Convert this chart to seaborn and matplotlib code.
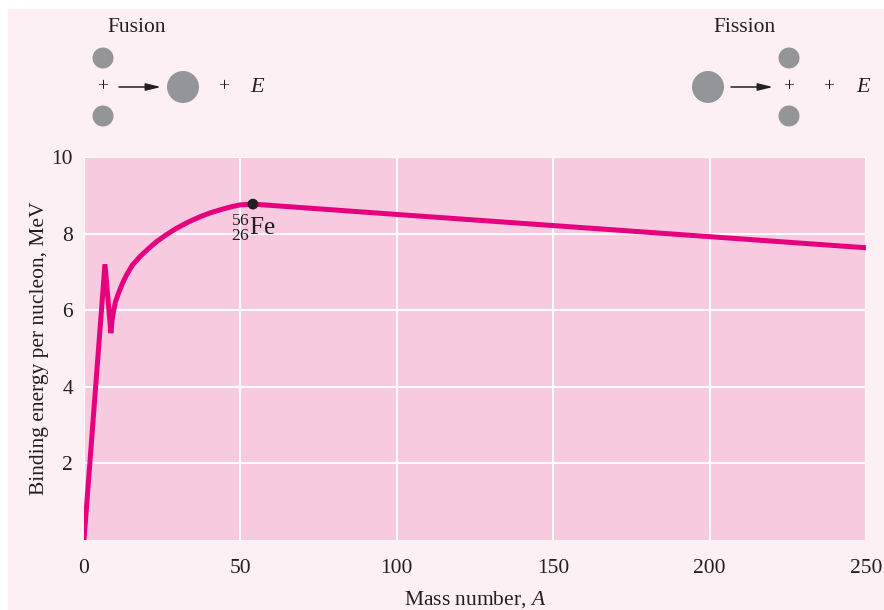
import numpy as np
import pandas as pd
import matplotlib
matplotlib.use("Agg")
import matplotlib.pyplot as plt
import seaborn as sns
from matplotlib.patches import Circle, Rectangle

# binding energy curve
mass_number = [0, 6.7, 8.6, 9.0, 9.4, 10.0, 11.0, 12.3, 13.6, 15.5, 17.9, 20.5,
               23.2, 26.3, 29.6, 33.3, 37.1, 40.3, 43.5, 47.0, 50.0, 54.0,
               100, 150, 200, 250]
binding_energy = [0, 7.2, 5.4, 5.75, 5.95, 6.2, 6.44, 6.7, 6.92, 7.18, 7.40, 7.60,
                  7.79, 7.97, 8.14, 8.30, 8.44, 8.54, 8.62, 8.70, 8.75, 8.77,
                  8.50, 8.21, 7.92, 7.63]

fe_a = [54.0]
fe_be = [8.77]

x_ticks = [0, 50, 100, 150, 200, 250]
y_ticks = [2, 4, 6, 8, 10]

curve = pd.DataFrame({"A": mass_number, "BE": binding_energy})
iron = pd.DataFrame({"A": fe_a, "BE": fe_be})

LINE = "#E6007E"
FACE = "#F8CAE0"
OUTER = "#FDF0F5"
NUCLEUS = "#939598"
TEXT = "#231F20"

sns.set_style("white")
plt.rcParams["font.family"] = ["Liberation Serif", "DejaVu Serif"]
plt.rcParams["mathtext.fontset"] = "custom"
plt.rcParams["mathtext.rm"] = "Liberation Serif"
plt.rcParams["mathtext.it"] = "Liberation Serif:italic"

fig = plt.figure(figsize=(8.84, 6.10), dpi=100, facecolor="white")

# decoration layer in pixel coordinates
deco = fig.add_axes([0, 0, 1, 1], zorder=0)
deco.set_xlim(0, 884)
deco.set_ylim(610, 0)
deco.axis("off")
deco.add_patch(Rectangle((8, 9), 884, 610, color=OUTER, lw=0))

ax = fig.add_axes([84 / 884, 1 - 540 / 610, 782 / 884, 383 / 610], zorder=1)
ax.set_facecolor(FACE)

sns.lineplot(data=curve, x="A", y="BE", ax=ax, color=LINE, linewidth=3.6,
             sort=False, estimator=None, solid_joinstyle="miter", zorder=3)
sns.scatterplot(data=iron, x="A", y="BE", ax=ax, color=TEXT, s=60,
                edgecolor="none", zorder=4)
ax.text(fe_a[0] - 7, fe_be[0] - 0.22, r"${}^{56}_{26}\mathrm{Fe}$", fontsize=18,
        color=TEXT, ha="left", va="top")

ax.set_xlim(0, 250)
ax.set_ylim(0, 10)
ax.set_xticks(x_ticks)
ax.set_yticks(y_ticks)
ax.grid(True, color="white", linewidth=1.4)
ax.set_axisbelow(True)
for s in ax.spines.values():
    s.set_visible(False)
ax.tick_params(length=0, labelsize=15.5, colors=TEXT)
ax.tick_params(axis="y", pad=8)
ax.tick_params(axis="x", pad=14)
ax.set_xlabel("Mass number, $A$", fontsize=15.5, color=TEXT, labelpad=8)
ax.set_ylabel("Binding energy per nucleon, MeV", fontsize=15.5, color=TEXT, labelpad=2)

# fusion / fission sketches
def nucleus(x, y, r):
    deco.add_patch(Circle((x, y), r, color=NUCLEUS, lw=0))

def arrow(x0, x1, y):
    deco.annotate("", xy=(x1, y), xytext=(x0, y),
                  arrowprops=dict(arrowstyle="-|>,head_length=0.9,head_width=0.22",
                                  color=TEXT, lw=1.1, shrinkA=0, shrinkB=0))

deco.text(137, 28, "Fusion", fontsize=15.5, color=TEXT, ha="center", va="center")
nucleus(103, 58, 10.5)
nucleus(103, 116, 10.5)
deco.text(103, 87, "+", fontsize=14, color=TEXT, ha="center", va="center")
arrow(119, 161, 87)
nucleus(183, 87, 16)
deco.text(224, 87, "+", fontsize=14, color=TEXT, ha="center", va="center")
deco.text(258, 87, "$\\mathit{E}$", fontsize=16, color=TEXT, ha="center", va="center")

deco.text(744, 28, "Fission", fontsize=15.5, color=TEXT, ha="center", va="center")
nucleus(708, 87, 16)
arrow(731, 773, 87)
nucleus(789, 58, 10.5)
nucleus(789, 116, 10.5)
deco.text(789, 87, "+", fontsize=14, color=TEXT, ha="center", va="center")
deco.text(829, 87, "+", fontsize=14, color=TEXT, ha="center", va="center")
deco.text(864, 87, "$\\mathit{E}$", fontsize=16, color=TEXT, ha="center", va="center")

fig.savefig("out.png", dpi=100, facecolor=fig.get_facecolor())
